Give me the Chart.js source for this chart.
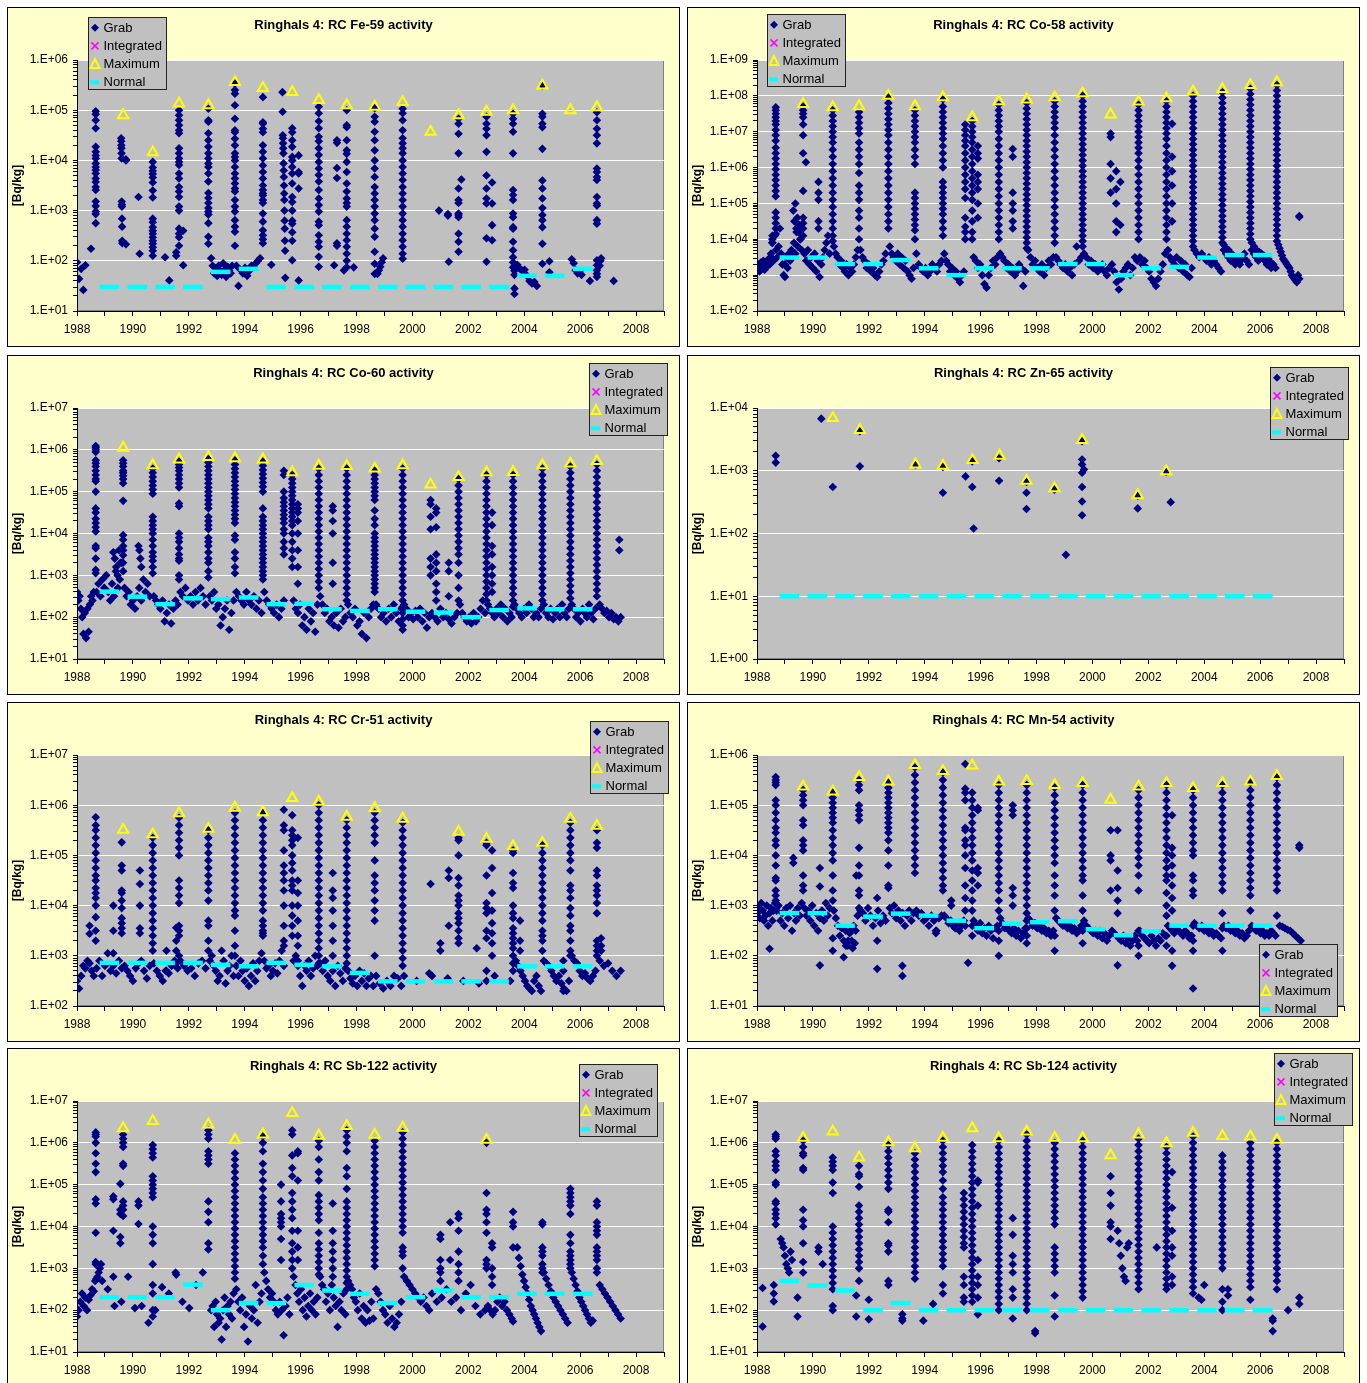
<!DOCTYPE html>
<html>
<head>
<meta charset="utf-8">
<script src="https://cdn.jsdelivr.net/npm/chart.js@4.4.0/dist/chart.umd.min.js"></script>
<style>
body { margin: 0; background: #fff; width: 1367px; height: 1383px; overflow: hidden; position: relative; }
.panel { position: absolute; width: 671px; height: 338px; border: 1px solid #000; background: #FFFFCC; }
.panel canvas { display: block; }
</style>
</head>
<body>
<script>
// --- Data (all activity values are log10 of Bq/kg) ---
// grab rows: [x, [values]] or [x0, x1, [values]] (samples spread between x0 and x1)

// centres of the "Normal" dashes, one per cycle
const normalX = [1989.16,1990.16,1991.15,1992.15,1993.14,1994.14,1995.13,1996.13,1997.12,1998.12,1999.12,2000.11,2001.11,2002.10,2003.10,2004.10,2005.09,2006.09];

// --- Fe-59 ---
const fe59Grab = [
  [1988.0,1988.3,[1.97,1.64,1.84,1.42,1.91]],[1988.5,[2.24]],
  [1988.67,[4.98,4.92,4.8,4.64,4.27,4.17,4.1,4.04,3.94,3.87,3.81,3.74,3.64,3.57,3.47,3.41,3.18,3.09,2.98,2.93,2.75]],
  [1989.58,1989.62,[4.44,4.38,4.3,4.24,4.14,4.04,3.18,3.12,3.08,2.84,2.68,2.4,2.35]],[1989.75,[4.02,4.0,2.33]],
  [1990.2,[3.27]],[1990.24,[2.14]],
  [1990.71,[3.97,3.86,3.79,3.73,3.66,3.56,3.4,3.26,2.84,2.77,2.67,2.6,2.54,2.47,2.4,2.34,2.27,2.2,2.1]],
  [1991.15,[2.07]],[1991.3,[1.61]],[1991.55,[2.1,2.17]],
  [1991.65,[5.0,4.9,4.8,4.7,4.6,4.54,4.24,4.14,4.04,3.97,3.91,3.74,3.64,3.47,3.38,3.27,3.08,3.0,2.64,2.54,2.47,2.3]],
  [1991.8,[1.91,2.6]],
  [1992.7,[5.03,4.8,4.77,4.54,4.4,4.27,4.14,4.04,3.94,3.87,3.74,3.58,3.35,3.25,3.15,3.05,2.98,2.92,2.75,2.48,2.34]],
  [1992.8,1993.55,[2.05,1.9,1.75,1.85,1.7,1.9,1.8,1.72,1.95,1.82,1.68,1.88,1.8,1.75,1.9]],
  [1993.65,[5.53,5.4,5.33,5.1,4.83,4.6,4.56,4.43,4.3,4.14,4.07,4.0,3.87,3.74,3.64,3.54,3.44,3.38,3.21,3.08,2.98,2.81,2.68,2.58,2.3]],
  [1993.7,1994.55,[1.9,1.5,1.82,1.75,1.86,1.7,1.8,1.9,1.88,1.95,2.0,2.05]],
  [1994.65,[5.26,4.76,4.73,4.63,4.56,4.3,4.17,4.04,3.9,3.77,3.64,3.5,3.41,3.34,3.3,3.21,3.15,2.94,2.78,2.61,2.51,2.43,2.35]],
  [1994.95,[1.92]],
  [1995.35,1995.45,[5.36,4.97,4.5,4.44,4.34,4.24,4.14,3.94,3.8,3.67,3.5,3.34,3.21,3.0,2.8,2.64,2.4,2.2,1.66]],
  [1995.7,[4.64,4.56,4.4,4.27,4.07,4.0,3.87,3.74,3.54,3.27,3.17,3.0,2.8,2.74,2.57,2.4,2.01]],
  [1995.93,[4.1,3.77,3.74,3.44,1.61]],
  [1996.65,[5.07,4.94,4.78,4.64,4.47,4.38,4.24,4.11,3.97,3.84,3.71,3.58,3.41,3.24,3.11,2.98,2.78,2.71,2.51,2.38,2.28,2.08,1.88]],
  [1997.2,[1.91]],[1997.3,[4.4,4.35,3.85,3.65,2.35,2.3]],[1997.55,[1.81]],
  [1997.65,[5.0,4.7,4.66,4.4,4.2,4.13,3.97,3.77,3.54,3.38,3.24,3.15,3.08,2.81,2.68,2.54,2.41,2.28,2.14,2.0,1.87]],
  [1997.9,[1.87]],
  [1998.65,[5.04,4.87,4.77,4.57,4.4,4.2,4.0,3.84,3.67,3.47,3.34,3.21,3.08,2.94,2.81,2.64,2.48,2.18,1.94,1.74]],
  [1998.75,1998.95,[1.74,1.81,1.88,1.97,2.05]],
  [1999.65,[5.03,4.94,4.8,4.6,4.44,4.34,4.24,4.14,4.0,3.87,3.74,3.61,3.47,3.34,3.21,3.08,2.94,2.81,2.68,2.54,2.41,2.28,2.14,2.04]],
  [2000.95,[3.0]],[2001.27,[2.93,2.9]],[2001.3,[1.98]],
  [2001.65,[4.83,4.73,4.53,4.14,3.44,3.21,3.15,2.94,2.91,2.87,2.54,2.38,2.18]],[2001.75,[3.62]],
  [2002.65,[4.87,4.73,4.63,4.5,4.17,3.7,3.44,3.24,3.14,2.45,1.98]],[2002.85,[3.56,3.14,2.71,2.41]],
  [2003.6,[4.93,4.83,4.73,4.57,4.14,3.41,3.31,3.21,2.94,2.87,2.67,2.64,2.38,2.21,2.07,1.97,1.87]],
  [2003.65,[1.8,1.72,1.45,1.34]],
  [2003.75,2004.45,[1.92,1.85,1.8,1.82,1.7,1.6,1.55,1.58,1.5]],
  [2004.65,[5.49,4.93,4.87,4.73,4.66,4.23,3.6,3.44,3.24,3.05,2.91,2.81,2.67,2.34,1.94]],
  [2004.9,[1.99,1.77]],
  [2005.7,2006.05,[2.03,1.95,1.81,1.75,1.78,1.72]],[2006.35,[1.6]],
  [2006.6,[4.96,4.8,4.63,4.5,4.34,3.84,3.77,3.67,3.61,3.27,3.14,3.1,2.81,2.74,2.01,1.91,1.81,1.74,1.68]],
  [2006.7,2006.75,[1.9,2.0,2.05]],[2007.2,[1.6]]
];
const fe59Max = [[1989.65,4.9],[1990.71,4.16],[1991.65,5.13],[1992.7,5.1],[1993.65,5.56],[1994.65,5.44],[1995.7,5.36],[1996.65,5.2],[1997.65,5.1],[1998.65,5.07],[1999.65,5.16],[2000.65,4.57],[2001.65,4.9],[2002.65,4.97],[2003.6,5.0],[2004.65,5.49],[2005.65,5.0],[2006.6,5.06]];
const fe59Normal = [1.48,1.48,1.48,1.48,1.78,1.84,1.48,1.48,1.48,1.48,1.48,1.48,1.48,1.48,1.48,1.7,1.7,1.84];

// --- Co-58 ---
const co58Grab = [
  [1988.55,[4.0,4.1,3.9]],
  [1988.67,[7.68,7.6,7.5,7.4,7.3,7.2,7.05,6.9,6.75,6.55,6.4,6.25,6.1,5.95,5.8,5.65,5.5,5.35,5.2,4.75,4.6,4.45,4.3,4.15]],
  [1989.3,1989.55,[4.8,4.5,5.0,4.3,4.6,4.2,4.4,4.0]],
  [1989.65,[7.7,7.6,7.5,7.4,7.2,6.9,6.4,5.35,4.6,4.45,4.3,4.1]],[1989.75,[6.15]],
  [1990.2,[5.6,5.3,5.1,4.5,4.3]],
  [1990.71,[7.6,7.45,7.3,7.15,7.0,6.85,6.7,6.5,6.3,6.1,5.9,5.7,5.5,5.3,5.1,4.9,4.7,4.5,4.3,4.1,3.95]],
  [1991.65,[7.55,7.4,7.25,7.1,6.95,6.7,6.5,6.3,6.1,5.85,5.5,5.3,5.1,4.8,4.6,4.3,4.0]],
  [1992.7,[7.95,7.8,7.65,7.5,7.35,7.2,7.05,6.9,6.7,6.5,6.3,6.1,5.9,5.7,5.5,5.3,5.1,4.9,4.7,4.5,4.3]],
  [1993.65,[7.6,7.45,7.3,7.15,7.0,6.85,6.7,6.5,6.3,6.1,5.3,5.15,5.0,4.85,4.7,4.55,4.4,4.25,4.0]],
  [1994.65,[7.9,7.7,7.55,7.4,7.25,7.1,6.95,6.8,6.6,6.4,6.2,6.0,5.6,5.45,5.3,5.15,5.0,4.85,4.7,4.5,4.3,4.1]],
  [1995.45,[7.2,7.05,6.9,6.75,6.6,6.4,6.2,6.0,5.8,5.6,5.4,5.15,4.6,4.35,4.2,4.0]],
  [1995.7,[7.3,7.15,7.0,6.85,6.7,6.5,6.3,6.1,5.9,5.7,5.5,5.3,5.1,4.8,4.5,4.2,4.0]],
  [1995.9,[6.6,6.4,6.25,5.8,5.6,5.4,5.0,4.6]],
  [1996.65,[7.75,7.6,7.45,7.3,7.15,7.0,6.8,6.6,6.4,6.2,6.0,5.8,5.6,5.4,5.2,5.0,4.8,4.6,4.4,4.2,4.0]],
  [1997.15,[6.52,6.3,5.3,5.0,4.8,4.5,4.3]],
  [1997.65,[7.8,7.65,7.5,7.35,7.2,7.05,6.9,6.75,6.6,6.45,6.3,6.15,6.0,5.85,5.7,5.55,5.4,5.25,5.1,4.95,4.8,4.65,4.5,4.35,4.2,4.05,3.9,3.75]],
  [1998.65,[7.85,7.7,7.55,7.4,7.25,7.1,6.9,6.7,6.5,6.3,6.1,5.9,5.7,5.5,5.3,5.1,4.9,4.7,4.5,4.3,4.1,3.9]],
  [1999.65,[8.0,7.85,7.7,7.55,7.4,7.25,7.1,6.95,6.8,6.65,6.5,6.35,6.2,6.05,5.9,5.75,5.6,5.45,5.3,5.15,5.0,4.85,4.7,4.55,4.4,4.25,4.1,3.95,3.8]],
  [2000.65,[6.95,6.85,6.1,5.7,5.3]],[2000.85,[5.9,5.4,5.0,4.5,4.2]],[2001.0,[5.6,4.4]],
  [2001.65,[7.75,7.6,7.45,7.3,7.15,7.0,6.85,6.7,6.55,6.4,6.2,6.0,5.8,5.6,5.4,5.2,5.0,4.8,4.6,4.4,4.2,4.0]],
  [2002.65,[7.85,7.7,7.55,7.4,7.25,7.1,6.95,6.8,6.6,6.4,6.2,6.0,5.8,5.6,5.4,5.2,5.0,4.8,4.6,4.4,4.2,4.0]],
  [2002.85,[7.22,6.3,5.9,5.5,5.0,4.5]],
  [2003.6,[8.0,7.85,7.7,7.55,7.4,7.25,7.1,6.95,6.8,6.65,6.5,6.35,6.2,6.05,5.9,5.75,5.6,5.45,5.3,5.15,5.0,4.85,4.7,4.55,4.4,4.25,4.1,3.95,3.8]],
  [2004.65,[8.1,7.95,7.8,7.65,7.5,7.35,7.2,7.05,6.9,6.75,6.6,6.45,6.3,6.15,6.0,5.85,5.7,5.55,5.4,5.25,5.1,4.95,4.8,4.65,4.5,4.35,4.2,4.05,3.9]],
  [2004.7,2005.3,[3.85,3.75,3.7,3.6,3.55,3.5,3.45,3.4]],
  [2005.65,[8.2,8.05,7.9,7.75,7.6,7.45,7.3,7.15,7.0,6.85,6.7,6.55,6.4,6.25,6.1,5.95,5.8,5.65,5.5,5.35,5.2,5.05,4.9,4.75,4.6,4.45,4.3,4.15,4.0]],
  [2005.7,2006.3,[3.9,3.8,3.7,3.65,3.6,3.55,3.5,3.45]],
  [2006.6,[8.3,8.15,8.0,7.85,7.7,7.55,7.4,7.25,7.1,6.95,6.8,6.65,6.5,6.35,6.2,6.05,5.9,5.75,5.6,5.45,5.3,5.15,5.0,4.85,4.7,4.55,4.4,4.25,4.1,3.95]],
  [2006.65,2007.4,[3.85,3.75,3.65,3.55,3.45,3.4,3.35,3.3,3.25,3.2,3.1,3.0,2.95,2.9,2.85,2.8,3.0,2.9]],
  [2007.4,[4.65,4.62]]
];
const co58Band = [
  [1988.0,1988.5,[3.2,3.3,3.1,3.35,3.2,3.4,3.15,3.3,3.25,3.45,3.3,3.5]],
  [1988.5,1989.0,[3.6,3.9,3.4,4.1,3.7,3.5,3.8,4.3,3.6,3.3,3.0,2.95]],
  [1989.0,1989.6,[3.3,3.5,3.2,3.6,3.4,3.7,3.5,3.9,3.6,4.2,3.8,4.4,4.0,3.7]],
  [1989.7,1990.6,[3.6,3.4,3.7,3.3,3.5,3.2,3.6,3.1,3.4,2.95,3.3,3.5,3.7,3.9,4.1,3.6]],
  [1990.75,1991.6,[3.8,3.6,3.5,3.3,3.4,3.2,3.1,3.3,3.0,3.2,3.1,3.3,3.5,3.7]],
  [1991.7,1992.6,[3.7,3.5,3.4,3.2,3.3,3.1,3.2,3.0,2.95,3.1,3.3,3.4,3.6]],
  [1992.75,1993.6,[3.8,3.6,3.5,3.4,3.6,3.3,3.5,3.2,3.4,3.1,3.0,2.9,3.2]],
  [1993.7,1994.6,[3.6,3.3,3.2,3.1,3.2,3.0,3.1,3.3,3.2,3.1,3.3,3.4]],
  [1994.7,1995.4,[3.6,3.4,3.3,3.1,3.2,3.0,3.1,2.9,2.8,3.0,3.1]],
  [1995.75,1996.6,[3.5,3.4,3.2,3.3,3.0,2.75,2.65,3.0,3.2,3.4,3.3,3.5]],
  [1996.7,1997.6,[3.6,3.5,3.4,3.2,3.3,3.1,3.2,3.0,3.1,3.3,3.2,2.7,3.1]],
  [1997.7,1998.6,[3.7,3.5,3.3,3.4,3.2,3.1,3.3,3.0,3.2,3.4,3.3,3.5]],
  [1998.7,1999.6,[3.5,3.4,3.3,3.2,3.3,3.1,3.2,3.0,3.3,3.8,3.4,3.5]],
  [1999.7,2000.6,[3.6,3.5,3.3,3.4,3.2,3.3,3.1,3.2,3.3,3.1,3.0,3.2]],
  [2000.7,2001.6,[3.3,3.1,2.8,2.6,2.9,3.1,3.2,3.3,3.0,3.2,3.5,3.4]],
  [2001.7,2002.6,[3.5,3.3,3.4,3.2,3.1,2.9,2.8,2.7,2.9,3.1,3.3,3.6]],
  [2002.7,2003.55,[3.7,3.5,3.4,3.3,3.5,3.2,3.4,3.1,3.3,3.0,2.95,3.2]],
  [2003.65,2004.6,[3.7,3.6,3.5,3.6,3.5,3.4,3.5,3.3,3.4,3.3,3.2,3.1]],
  [2004.7,2005.6,[3.7,3.6,3.5,3.4,3.5,3.3,3.4,3.3,3.5,3.6,3.4,3.3]],
  [2005.7,2006.55,[3.7,3.6,3.5,3.4,3.6,3.5,3.4,3.3,3.4,3.2,3.3,3.2]]
];
const co58Max = [[1989.65,7.77],[1990.71,7.68],[1991.65,7.71],[1992.7,8.0],[1993.65,7.71],[1994.65,7.96],[1995.7,7.4],[1996.65,7.85],[1997.65,7.9],[1998.65,7.96],[1999.65,8.07],[2000.65,7.48],[2001.65,7.84],[2002.65,7.93],[2003.6,8.12],[2004.65,8.19],[2005.65,8.3],[2006.6,8.38]];
const co58Normal = [3.49,3.49,3.31,3.31,3.42,3.19,3.0,3.19,3.19,3.19,3.31,3.31,3.0,3.19,3.23,3.49,3.56,3.56];

// --- Co-60 ---
const co60Grab = [
  [1988.67,[6.09,6.05,6.0,5.95,5.75,5.68,5.6,5.5,5.4,5.3,5.25,5.0,4.6,4.5,4.35,4.25,4.15,4.05,3.7,3.65,3.4,3.13,3.05]],
  [1989.3,1989.55,[3.55,3.4,3.2,3.0,3.6,3.3]],
  [1989.65,[5.75,5.68,5.6,5.5,5.45,5.38,5.3,5.2,4.78,3.96,3.85,3.7,3.6,3.48,3.3,3.1]],
  [1990.2,1990.3,[3.7,3.6,3.4,3.2]],
  [1990.71,[5.55,5.45,5.35,5.25,5.15,5.05,4.95,4.4,4.3,4.2,4.1,4.0,3.85,3.7,3.55,3.45,3.35,3.2,3.05]],
  [1991.65,[5.72,5.65,5.58,5.5,5.4,5.3,5.2,5.1,4.72,4.65,4.0,3.9,3.8,3.65,3.5,3.4,3.35,3.0,2.9]],
  [1992.7,[5.78,5.7,5.6,5.5,5.4,5.3,5.2,5.1,5.0,4.9,4.8,4.7,4.6,4.4,4.3,4.2,4.1,3.9,3.8,3.7,3.55,3.4,3.3,3.1,2.95]],
  [1993.65,[5.75,5.65,5.55,5.45,5.35,5.25,5.15,5.05,4.95,4.85,4.75,4.65,4.55,4.45,4.35,4.25,3.95,3.85,3.55,3.4,3.2,3.05]],
  [1994.65,[5.72,5.62,5.52,5.42,5.32,5.22,5.12,5.0,4.6,4.4,4.3,4.2,4.1,4.0,3.9,3.8,3.7,3.6,3.5,3.4,3.3,3.2,3.1,3.0,2.9]],
  [1995.4,[5.5,5.4,5.0,4.85,4.75,4.65,4.55,4.45,4.35,4.25,4.1,4.0,3.8,3.65,3.5]],
  [1995.7,[5.4,5.3,5.2,5.1,5.0,4.9,4.8,4.7,4.6,4.5,4.4,4.3,4.2,4.0,3.8,3.6,3.4,3.2]],
  [1995.9,[4.7,4.6,4.5,4.3,4.0,3.6,3.2,2.8]],
  [1996.65,[5.55,5.4,5.25,5.1,4.95,4.8,4.65,4.5,4.35,4.2,4.05,3.9,3.75,3.6,3.45,3.3,3.15,3.0,2.85,2.7]],
  [1997.15,[4.65,4.55,4.3,4.0,3.3,2.8]],
  [1997.65,[5.55,5.4,5.25,5.1,4.95,4.8,4.65,4.5,4.35,4.2,4.05,3.9,3.75,3.6,3.45,3.3,3.15,3.0,2.85,2.7,2.55,2.4]],
  [1998.65,[5.5,5.4,5.3,5.2,5.1,5.0,4.9,4.8,4.55,4.35,4.2,4.0,3.9,3.8,3.7,3.6,3.5,3.4,3.3,3.2,3.1,3.0,2.9,2.8,2.7,2.6]],
  [1999.65,[5.55,5.4,5.25,5.1,4.95,4.8,4.65,4.5,4.35,4.2,4.05,3.9,3.75,3.6,3.45,3.3,3.15,3.0,2.85,2.7,2.55,2.4,2.25,2.1,1.95,1.8,1.7]],
  [2000.65,[4.8,4.7,4.4,4.1,3.4,3.2,3.0]],
  [2000.85,[4.6,4.5,4.15,3.5,3.3,3.1,2.8,2.6,2.4]],
  [2001.3,[3.3,3.1,2.5]],
  [2001.65,[5.3,5.15,5.0,4.85,4.7,4.55,4.4,4.25,4.1,3.95,3.8,3.65,3.5,3.3,3.0,2.7,2.4]],
  [2002.65,[5.4,5.25,5.1,4.95,4.8,4.65,4.5,4.35,4.2,4.05,3.9,3.75,3.6,3.45,3.3,3.15,3.0,2.85,2.7,2.55,2.4]],
  [2002.85,[4.5,4.2,3.7,3.5,3.2,3.0,2.8,2.6]],
  [2003.6,[5.4,5.25,5.1,4.95,4.8,4.65,4.5,4.35,4.2,4.05,3.9,3.75,3.6,3.45,3.3,3.15,3.0,2.85,2.7,2.55,2.4,2.25]],
  [2004.65,[5.55,5.4,5.25,5.1,4.95,4.8,4.65,4.5,4.35,4.2,4.05,3.9,3.75,3.6,3.45,3.3,3.15,3.0,2.85,2.7,2.55,2.4]],
  [2005.65,[5.6,5.45,5.3,5.15,5.0,4.85,4.7,4.55,4.4,4.25,4.1,3.95,3.8,3.65,3.5,3.35,3.2,3.05,2.9,2.75,2.6,2.45]],
  [2006.6,[5.65,5.5,5.35,5.2,5.05,4.9,4.75,4.6,4.45,4.3,4.15,4.0,3.85,3.7,3.55,3.4,3.25,3.1,2.95,2.8,2.65,2.5]],
  [2007.4,[3.85,3.6]]
];
const co60Band = [
  [1988.0,1988.6,[2.6,2.4,2.5,2.2,2.0,1.6,2.1,1.5,2.2,1.65,2.3,2.5,2.4,2.6]],
  [1988.7,1989.6,[2.6,2.8,2.5,2.9,2.7,3.0,2.6,2.4,2.8,2.5,3.1,2.7,2.9,3.3]],
  [1989.7,1990.6,[2.7,2.5,2.6,2.3,2.4,2.2,2.5,2.7,2.4,2.9,2.6,2.8,2.5]],
  [1990.75,1991.6,[2.5,2.4,2.3,2.2,2.4,1.9,2.1,2.3,1.85,2.2,2.4,2.3]],
  [1991.7,1992.6,[2.6,2.5,2.7,2.4,2.5,2.3,2.6,2.4,2.7,2.5,2.3]],
  [1992.75,1993.6,[2.5,2.4,2.6,2.2,2.3,1.8,2.0,2.2,2.4,1.7,2.1,2.4]],
  [1993.7,1994.6,[2.6,2.5,2.4,2.3,2.6,2.4,2.3,2.5,2.2,2.4,2.1]],
  [1994.7,1995.4,[2.6,2.4,2.3,2.2,2.1,2.3,2.0,2.2,2.4]],
  [1995.75,1996.6,[2.4,2.2,2.1,2.3,1.8,2.0,1.7,2.2,1.9,2.1,1.65,2.3]],
  [1996.7,1997.6,[2.5,2.3,2.1,2.2,1.9,2.0,1.8,2.1,1.75,2.2,1.9,2.0]],
  [1997.7,1998.6,[2.3,2.1,2.0,2.2,1.8,1.9,1.6,2.1,1.5,2.0,2.2,2.3]],
  [1998.7,1999.6,[2.3,2.2,2.0,2.1,1.9,2.2,2.0,2.3,2.1,1.9,2.2]],
  [1999.7,2000.6,[2.3,2.2,2.0,2.1,1.95,2.15,2.0,2.2,1.9,2.1,1.75,2.0]],
  [2000.7,2001.6,[2.1,2.0,1.9,2.2,2.0,2.1,1.95,1.85,2.0,2.1]],
  [2001.7,2002.6,[2.3,2.1,2.0,1.9,2.0,1.85,2.1,1.9,2.0,2.2,2.4,2.1]],
  [2002.7,2003.55,[2.3,2.2,2.1,2.0,2.2,2.1,2.3,2.0,2.2,1.9,2.1,2.0]],
  [2003.65,2004.6,[2.3,2.2,2.1,2.0,2.2,2.1,2.3,2.2,2.0,2.1,2.0,2.2]],
  [2004.7,2005.6,[2.3,2.1,2.0,2.2,1.95,2.1,2.2,2.0,2.3,2.1,2.0,2.2]],
  [2005.7,2006.55,[2.3,2.2,2.0,2.1,1.9,2.2,2.1,2.0,2.3,2.1,1.95,2.2]],
  [2006.7,2007.45,[2.3,2.2,2.1,2.15,2.0,2.1,1.95,2.0,1.9,2.0]]
];
const co60Max = [[1989.65,6.05],[1990.71,5.63],[1991.65,5.77],[1992.7,5.83],[1993.65,5.8],[1994.65,5.77],[1995.7,5.46],[1996.65,5.62],[1997.65,5.61],[1998.65,5.55],[1999.65,5.63],[2000.65,5.17],[2001.65,5.35],[2002.65,5.46],[2003.6,5.47],[2004.65,5.63],[2005.65,5.67],[2006.6,5.73]];
const co60Normal = [2.61,2.49,2.31,2.45,2.43,2.47,2.31,2.32,2.19,2.15,2.19,2.13,2.11,2.0,2.17,2.21,2.19,2.19];

// --- Zn-65 ---
const zn65Grab = [
  [1988.67,[3.24,3.13]],[1990.3,[3.83]],[1990.71,[2.74]],[1991.68,[3.63,3.07]],[1993.67,[3.09]],
  [1994.65,[3.06,2.65]],[1995.46,[2.91]],[1995.7,[3.15,2.74]],[1995.75,[2.08]],[1996.66,[3.2,2.84]],
  [1997.64,[2.82,2.65,2.39]],[1998.64,[2.7]],[1999.05,[1.66]],[1999.63,[3.47,3.18,3.1,2.97,2.74,2.51,2.29]],
  [1999.7,[3.02]],[2001.62,[2.6,2.4]],[2002.64,[2.98]],[2002.8,[2.5]]
];
const zn65Max = [[1990.71,3.84],[1991.68,3.65],[1993.67,3.1],[1994.65,3.08],[1995.71,3.17],[1996.68,3.24],[1997.64,2.84],[1998.64,2.72],[1999.63,3.49],[2001.62,2.61],[2002.64,2.99]];
const zn65Normal = [1,1,1,1,1,1,1,1,1,1,1,1,1,1,1,1,1,1];

// --- Cr-51 ---
const cr51Grab = [
  [1988.67,[5.76,5.6,5.5,5.35,5.2,5.05,4.9,4.75,4.6,4.5,4.35,4.25,4.15,4.0,3.77,3.5,3.3]],
  [1988.45,[3.44,3.6]],[1989.3,[4.0,3.5,3.05]],
  [1989.6,[5.26,4.8,4.7,4.3,4.25,4.1,3.95,3.75,3.65,3.55,3.45]],
  [1990.25,[4.7,4.43,4.0,3.55,3.45]],
  [1990.71,[5.35,5.2,5.05,4.9,4.75,4.6,4.45,4.3,4.15,4.0,3.85,3.7,3.55,3.4,3.25,3.1]],
  [1991.2,[3.1,2.7]],[1991.55,[3.56,3.3,3.1,2.85]],
  [1991.65,[5.75,5.6,5.45,5.3,5.15,5.0,4.5,4.35,4.2,4.05,3.6,3.5,3.4,3.0]],
  [1992.7,[5.5,5.35,5.2,5.05,4.9,4.75,4.6,4.45,4.3,4.1,3.7,3.6,3.3,3.1]],
  [1993.65,[5.85,5.7,5.55,5.4,5.25,5.1,4.95,4.8,4.65,4.5,4.35,4.2,4.05,3.9,3.8,3.5,3.2,3.0]],
  [1994.65,[5.85,5.7,5.55,5.4,5.25,5.1,4.95,4.8,4.65,4.5,4.35,4.2,4.05,3.9,3.7,3.6,3.5,3.45,3.4]],
  [1995.4,[5.91,5.6,5.5,5.1,4.8,4.65,4.5,4.3,4.0,3.6,3.3,3.2]],
  [1995.7,[5.8,5.5,5.4,5.3,5.2,5.0,4.85,4.7,4.5,4.4,4.3,4.0,3.8,3.6,3.4]],
  [1995.9,[5.35,4.5,4.25,4.0,3.7,3.4,3.2,2.9]],
  [1996.65,[6.0,5.85,5.7,5.55,5.4,5.25,5.1,4.95,4.8,4.65,4.5,4.35,4.2,4.05,3.9,3.75,3.6,3.45,3.3,3.15,3.0,2.85]],
  [1997.15,[4.65,4.3,4.15,3.9,3.6,3.3,3.0]],
  [1997.65,[5.7,5.55,5.4,5.25,5.1,4.95,4.8,4.65,4.5,4.35,4.2,4.05,3.9,3.75,3.6,3.45,3.3,3.15,3.0,2.85]],
  [1998.65,[5.85,5.7,5.55,5.4,5.25,4.9,4.6,4.45,4.3,4.1,3.9,3.7,3.0]],
  [1999.65,[5.65,5.5,5.35,5.2,5.05,4.9,4.75,4.6,4.45,4.3,4.15,4.0,3.85,3.7,3.55,3.4,3.25,3.1,2.95,2.8]],
  [2000.65,[4.43]],[2001.0,[3.25,3.1]],[2001.3,[4.7,4.55,3.6]],
  [2001.65,[5.35,5.3,5.0,4.55,4.4,4.2,4.1,4.0,3.85,3.75,3.65,3.5,3.35,3.25]],
  [2002.3,[3.15]],
  [2002.65,[5.25,5.2,4.6,4.05,3.95,3.85,3.5,3.35,2.7,2.5]],
  [2002.85,[5.1,4.75,4.25,3.9,3.65,3.45,3.25,3.0]],
  [2003.6,[5.1,5.05,4.65,4.45,4.35,4.0,3.85,3.75,3.55,3.45,3.35,3.25,3.15,3.0,2.85,2.7]],
  [2003.85,[3.7,3.3,3.1]],
  [2004.65,[5.2,5.05,4.9,4.75,4.6,4.45,4.3,4.15,4.0,3.85,3.7,3.5,3.4,3.3,3.1]],
  [2005.4,[2.9,2.7,2.3]],
  [2005.65,[5.65,5.5,5.35,5.2,5.05,4.9,4.7,4.4,4.3,4.15,3.95,3.8,3.6,3.5,3.3,3.1,3.0]],
  [2006.6,[5.5,5.25,5.15,4.7,4.6,4.4,4.3,4.2,4.05,3.85,3.3,3.2,3.1,3.0]],
  [2006.75,[3.35,3.2,3.1]]
];
const cr51Band = [
  [1988.0,1988.6,[2.5,2.35,2.6,2.8,2.75,2.9,2.85,2.7,2.6]],
  [1988.7,1989.6,[2.75,2.9,2.6,2.8,3.05,2.7,2.8,2.65,2.9,2.75]],
  [1989.7,1990.6,[2.8,2.7,2.6,2.5,2.75,2.85,2.9,2.7,2.55,2.8]],
  [1990.75,1991.6,[2.85,2.7,2.6,2.5,2.7,2.65,2.8,2.9,2.75]],
  [1991.7,1992.6,[2.9,2.8,2.7,2.75,2.6,2.85,2.9,2.75]],
  [1992.75,1993.6,[2.9,3.0,2.8,2.7,2.5,2.6,3.1,2.9,2.45,2.7,2.8,3.0,2.6]],
  [1993.7,1994.6,[2.8,2.6,2.9,2.7,2.5,2.75,2.4,2.6,2.85,2.5,2.7,2.9,3.05]],
  [1994.7,1995.4,[2.9,2.75,2.8,2.6,2.7,2.85,2.65,2.9,3.1,2.8]],
  [1995.75,1996.6,[2.9,3.0,2.8,2.6,2.4,2.8,2.7,2.9,2.6,2.75,3.0,2.8]],
  [1996.7,1997.6,[2.85,2.7,2.9,2.6,2.5,2.7,2.4,2.8,2.65,2.5,2.75]],
  [1997.7,1998.6,[2.7,2.55,2.45,2.6,2.4,2.7,2.5,2.65,2.4,2.55,2.6,2.4]],
  [1998.7,1999.6,[2.6,2.45,2.35,2.5,2.4,2.6,2.55,2.4]],
  [1999.7,2000.6,[2.6,2.5,2.65]],
  [2000.7,2003.5,[2.6,2.55,2.5,2.45,2.6,2.5]],
  [2003.7,2004.6,[2.9,2.8,2.7,2.6,2.5,2.4,2.35,2.3,2.5,2.6,2.4,2.3]],
  [2004.7,2005.6,[2.9,2.85,2.8,2.7,2.6,2.5,2.6,2.45,2.35,2.3,2.5]],
  [2005.7,2006.55,[3.0,2.9,2.85,2.7,2.6,2.65,2.55,2.5,2.6,2.7]],
  [2006.7,2007.45,[2.9,2.8,2.85,2.7,2.6,2.7]]
];
const cr51Max = [[1989.65,5.51],[1990.71,5.42],[1991.65,5.84],[1992.7,5.53],[1993.65,5.95],[1994.65,5.86],[1995.7,6.14],[1996.65,6.07],[1997.65,5.77],[1998.65,5.94],[1999.65,5.73],[2001.65,5.47],[2002.65,5.33],[2003.6,5.18],[2004.65,5.25],[2005.65,5.73],[2006.6,5.59]];
const cr51Normal = [2.86,2.86,2.86,2.86,2.82,2.79,2.86,2.82,2.79,2.66,2.49,2.49,2.49,2.49,2.49,2.79,2.79,2.79];

// --- Mn-54 ---
const mn54Grab = [
  [1988.67,[5.56,5.5,5.45,5.4,5.1,5.0,4.85,4.7,4.55,4.45,4.3,4.2,4.0,3.8,3.55,3.5,3.3,3.2,3.1]],
  [1988.45,[2.14]],[1989.3,[3.95,3.85]],
  [1989.65,[5.3,5.2,5.1,5.0,4.7,4.6,4.3,4.2,4.1,3.6,3.4,3.3]],
  [1990.25,[3.75,3.38,1.81]],
  [1990.71,[5.25,5.15,5.05,4.95,4.85,4.75,4.65,4.5,4.35,4.2,4.05,3.9,3.6,3.3,3.1,2.35,2.1]],
  [1991.1,1991.5,[1.97,2.2,2.3,2.5,2.15,2.25]],[1991.55,[3.6]],
  [1991.65,[5.5,5.4,5.3,5.0,4.9,4.8,4.7,4.15,3.8,3.6,3.3,3.2,2.95]],
  [1992.3,[3.15,2.3,1.74]],
  [1992.7,[5.45,5.35,5.25,5.15,5.05,4.95,4.85,4.75,4.65,4.55,4.45,4.3,4.1,3.8,3.4,3.35]],
  [1993.2,[1.8,1.6]],
  [1993.65,[5.75,5.6,5.45,5.3,5.15,5.0,4.85,4.7,4.55,4.4,4.25,4.1,3.95,3.8,3.65]],
  [1994.4,[2.5,2.45]],
  [1994.65,[5.65,5.5,5.35,5.2,5.05,4.9,4.75,4.6,4.45,4.3,4.15,4.0,3.85,3.7,3.55,3.4,3.3]],
  [1994.95,[3.1,3.0]],
  [1995.45,[5.82,5.33,5.25,5.1,4.55,4.5,4.3,4.2,4.0,3.75,3.4,3.15,2.9,2.6]],[1995.55,[1.86]],
  [1995.7,[5.25,5.1,4.95,4.8,4.65,4.5,4.35,4.2,4.05,3.9,3.7,3.5,3.3,3.1,2.9,2.6,2.4]],
  [1995.9,[4.95,4.9,3.75,3.65,3.4]],
  [1996.65,[5.4,5.25,5.1,4.95,4.8,4.65,4.5,4.35,4.2,4.05,3.9,3.75,3.6,3.45,3.3,3.1,2.9,2.5,2.3,2.0]],
  [1997.15,[5.0,4.9,4.8,3.35,3.2,3.0,2.5]],
  [1997.65,[5.4,5.25,5.1,4.95,4.8,4.65,4.5,4.35,4.2,4.05,3.9,3.75,3.6,3.45,3.3,3.15,3.0,2.85,2.7,2.55,2.4,2.25]],
  [1998.65,[5.35,5.2,5.05,4.9,4.75,4.6,4.45,4.3,4.15,4.0,3.85,3.6,3.4,3.2,2.9,2.4,2.1]],
  [1999.65,[5.4,5.25,5.1,4.95,4.8,4.65,4.5,4.35,4.2,4.05,3.9,3.75,3.6,3.5,3.2,2.9,2.5,2.25]],
  [2000.65,[4.5,4.0,3.9,3.3]],[2000.9,[4.5,3.7,3.35,3.1,2.85,1.81]],
  [2001.65,[5.3,5.15,5.0,4.85,4.7,4.55,4.4,4.25,4.1,3.95,3.8,3.6,3.3,2.5,2.2,2.0]],
  [2002.65,[5.4,5.25,5.1,4.95,4.8,4.65,4.5,4.35,4.2,4.05,3.9,3.75,3.6,3.5,3.25,3.0,2.8,2.4,2.2]],
  [2002.85,[4.8,4.15,4.0,3.8,3.6,3.4,3.15,2.9,2.1,1.8]],
  [2003.6,[5.3,5.15,5.0,4.85,4.7,4.55,4.4,4.25,4.1,4.0,3.6,3.5,3.3,3.2,2.6,2.3,2.1,1.35]],
  [2004.65,[5.4,5.25,5.1,4.95,4.8,4.65,4.5,4.35,4.2,4.05,3.9,3.75,3.6,3.45,3.3,2.85,2.55,2.1]],
  [2005.65,[5.45,5.3,5.15,5.0,4.85,4.7,4.55,4.4,4.25,4.1,3.95,3.8,3.65,3.5,3.35,3.2,2.9]],
  [2006.6,[5.55,5.4,5.25,5.1,4.95,4.8,4.65,4.5,4.35,4.2,4.05,3.9,3.75,3.6,3.45,3.3,2.8]],
  [2007.4,[4.2,4.15]]
];
const mn54Band = [
  [1988.0,1988.65,[2.85,2.95,2.75,3.05,2.9,2.7,2.8,3.0,2.6,2.85,2.95,2.7,2.9,3.05]],
  [1988.7,1989.6,[2.9,3.0,2.7,2.85,2.6,2.95,2.75,3.0,2.5,2.85,2.7,2.95,2.8,3.05]],
  [1989.7,1990.6,[2.95,2.8,2.9,2.7,3.0,2.6,2.85,2.5,2.75,2.9,2.7,3.05,2.8,2.95]],
  [1990.75,1991.6,[2.9,2.75,2.6,2.4,2.55,2.3,2.5,2.2,2.45,2.3,2.6,2.5,2.8]],
  [1991.7,1992.6,[2.9,2.85,2.7,2.95,2.8,2.6,2.75,2.9,2.65,2.8,2.7]],
  [1992.75,1993.6,[2.95,2.85,3.0,2.75,2.9,2.7,2.85,2.6,2.8,2.9,2.7,2.85]],
  [1993.7,1994.6,[2.9,2.8,2.85,2.7,2.75,2.6,2.8,2.7,2.5,2.75,2.8]],
  [1994.7,1995.4,[2.8,2.75,2.65,2.7,2.6,2.55,2.65,2.5,2.6,2.7]],
  [1995.75,1996.6,[2.7,2.6,2.5,2.65,2.45,2.55,2.4,2.6,2.5,2.35,2.55,2.6]],
  [1996.7,1997.6,[2.75,2.65,2.55,2.6,2.5,2.45,2.55,2.4,2.5,2.35,2.45,2.55]],
  [1997.7,1998.6,[2.75,2.7,2.6,2.65,2.55,2.6,2.5,2.55,2.45,2.5,2.4,2.5]],
  [1998.7,1999.6,[2.75,2.7,2.65,2.6,2.65,2.55,2.6,2.5,2.55,2.45,2.5,2.6]],
  [1999.7,2000.6,[2.7,2.6,2.55,2.5,2.45,2.5,2.4,2.5,2.35,2.45,2.3,2.4]],
  [2000.7,2001.6,[2.5,2.45,2.4,2.35,2.3,2.4,2.25,2.35,2.2,2.3,2.4,2.3]],
  [2001.7,2002.6,[2.5,2.4,2.35,2.3,2.25,2.4,2.3,2.2,2.35,2.3,2.45,2.4]],
  [2002.7,2003.55,[2.6,2.55,2.5,2.45,2.55,2.5,2.45,2.4,2.5,2.45,2.35,2.4]],
  [2003.65,2004.6,[2.65,2.6,2.55,2.6,2.5,2.55,2.45,2.5,2.4,2.45,2.4,2.35]],
  [2004.7,2005.6,[2.6,2.55,2.6,2.5,2.55,2.45,2.5,2.4,2.45,2.35,2.4,2.5]],
  [2005.7,2006.55,[2.6,2.55,2.5,2.55,2.45,2.5,2.4,2.45,2.4,2.5,2.45,2.4]],
  [2006.7,2007.45,[2.6,2.58,2.55,2.52,2.5,2.45,2.4,2.35,2.3]]
];
const mn54Max = [[1989.65,5.37],[1990.71,5.27],[1991.65,5.56],[1992.7,5.47],[1993.65,5.8],[1994.65,5.68],[1995.7,5.79],[1996.65,5.47],[1997.65,5.48],[1998.65,5.4],[1999.65,5.44],[2000.65,5.11],[2001.65,5.37],[2002.65,5.44],[2003.6,5.34],[2004.65,5.44],[2005.65,5.47],[2006.6,5.58]];
const mn54Normal = [2.85,2.85,2.6,2.78,2.84,2.8,2.7,2.55,2.64,2.67,2.69,2.53,2.41,2.49,2.6,2.6,2.6,2.6];

// --- Sb-122 ---
const sb122Grab = [
  [1988.67,[6.25,6.2,6.15,6.0,5.75,5.5,5.3,4.65,4.55,3.85,3.15,3.1]],
  [1989.3,[4.72,4.65,3.9,2.8]],[1989.55,[5.02,4.4,4.3,3.75,3.6]],
  [1989.65,[6.2,6.1,6.0,5.9,5.5,5.45,4.6,4.5,4.4,4.25]],
  [1990.2,[4.6,4.5,4.06]],
  [1990.71,[5.95,5.85,5.75,5.65,5.2,5.1,5.0,4.9,4.8,4.7,4.0,3.8,3.6,3.1,2.6,2.4,2.0,1.85]],
  [1991.55,[2.85]],
  [1992.7,[6.3,6.2,6.1,5.8,5.7,5.6,5.5,4.6,4.35,4.1,3.6,3.45]],
  [1993.65,[5.75,5.6,5.45,5.3,5.15,5.0,4.85,4.7,4.55,4.4,4.25,4.1,3.95,3.8,3.65,3.5,3.35,3.2,3.05,2.9,2.75]],
  [1994.65,[6.15,6.0,5.8,5.5,5.3,5.1,4.9,4.7,4.55,4.4,4.25,4.1,3.95,3.8,3.65,3.5,3.3,3.1]],
  [1995.3,[5.0,4.6,4.3,4.2,4.1,4.0,3.7,3.2]],
  [1995.7,[6.3,6.2,5.7,5.4,5.2,4.8,4.6,4.4,4.2,3.9,3.6,3.4,3.2,3.0]],
  [1995.9,[5.8,5.75,5.1,3.9,3.5,3.2]],
  [1996.65,[6.05,5.9,5.6,5.3,5.1,4.75,4.6,4.45,4.3,4.15,3.85,3.6,3.45,3.3,3.15,3.0,2.85]],
  [1997.15,[4.55,3.9,3.6,3.4,3.2,3.0,2.8]],
  [1997.65,[6.3,6.15,6.0,5.8,5.4,5.2,4.9,4.6,4.45,4.3,4.15,4.0,3.85,3.7,3.55,3.4,3.25,3.1,2.95,2.8,2.65,2.5]],
  [1998.65,[6.05,5.9,5.75,5.6,5.45,5.3,5.15,5.0,4.85,4.7,4.55,4.4,4.25,4.1,3.95,3.8,3.65,3.5,3.35,3.2,3.05]],
  [1999.65,[6.25,6.1,5.95,5.8,5.65,5.5,5.35,5.2,5.05,4.9,4.75,4.6,4.45,4.3,4.15,4.0,3.85,3.5,3.4,3.3,3.0]],
  [2001.0,[3.8,3.7,3.2,3.0,2.9,2.7]],[2001.35,[4.1,3.2]],
  [2001.65,[4.3,4.2,3.9,3.4,3.1,2.9,2.7]],
  [2002.65,[6.0,4.8,4.4,4.3,4.1,3.85,3.2,3.1,3.0]],
  [2002.85,[3.6,3.5,3.0,2.8,2.6]],
  [2003.6,[4.35,4.1,4.0,3.5,1.73]],
  [2003.75,2004.6,[3.5,3.25,3.05,2.85,2.7,2.55,2.4,2.25,2.1,2.0,1.9,1.8,1.7,1.6,1.5]],
  [2004.65,[4.1,4.05,3.5,3.4,3.3,3.1,3.0,2.9]],
  [2004.7,2005.55,[2.9,2.75,2.6,2.45,2.3,2.2,2.1,2.0,1.9,1.8,1.7]],
  [2005.65,[4.9,4.8,4.7,4.6,4.5,4.3,3.8,3.6,3.4,3.3,3.2,3.1,3.0]],
  [2005.7,2006.45,[2.9,2.75,2.6,2.45,2.3,2.2,2.1,2.0,1.9,1.8,1.7,1.75]],
  [2006.6,[4.6,4.5,4.1,4.0,3.9,3.8,3.5,3.4,3.3,3.2,3.0,2.9]],
  [2006.7,2007.45,[2.6,2.5,2.4,2.3,2.2,2.1,2.0,1.9,1.8]]
];
const sb122Band = [
  [1988.0,1988.6,[1.85,2.0,2.2,2.4,2.1,2.3,2.0,2.25,2.35,2.5,2.45]],
  [1988.65,1988.9,[2.7,2.75,2.8,2.9,3.0,3.1,2.7]],
  [1989.1,1992.5,[2.5,2.1,2.2,2.8,2.05,2.1,1.7,2.0,2.55,2.4,2.9,2.2,2.05,2.6,2.9]],
  [1992.8,1993.6,[2.0,2.1,1.6,2.2,1.9,1.7,1.8,1.3,2.0,2.3,1.6,2.1,1.9,2.2,1.8,2.4]],
  [1993.7,1994.6,[2.5,2.2,2.0,2.3,1.6,1.9,1.25,2.1,1.8,2.0,2.6,1.7,2.2,2.4]],
  [1994.7,1995.6,[2.9,2.7,2.5,2.3,2.4,2.2,2.0,1.9,2.2,2.0,1.4,2.1,2.3,1.9]],
  [1995.75,1996.6,[2.8,2.6,2.4,2.2,2.5,2.0,2.3,1.85,2.1,2.4,2.0,2.2,1.9,2.3]],
  [1996.7,1997.6,[2.8,2.6,2.5,2.2,2.4,2.0,2.6,2.3,2.1,1.6,2.2,2.0,2.4,1.9]],
  [1997.7,1998.6,[2.7,2.6,2.5,2.3,2.2,2.0,2.4,1.8,2.1,1.7,2.0,1.75,2.2,1.8]],
  [1998.7,1999.6,[2.5,2.4,2.2,2.0,1.9,1.7,2.1,1.8,1.6,1.7,1.9,2.2]],
  [1999.7,2000.6,[2.8,2.7,2.6,2.5,2.4,2.3,2.2,2.3,2.1,2.0]],
  [2000.7,2002.6,[2.4,2.2,2.3,2.5,2.2,2.3,2.0,2.4,2.6,2.1,1.9,2.0]],
  [2002.7,2003.55,[2.1,2.0,1.9,2.0,2.2,2.3,2.1,2.2,2.0,1.9,1.8]]
];
const sb122Max = [[1989.65,6.35],[1990.71,6.52],[1992.7,6.44],[1993.65,6.07],[1994.65,6.2],[1995.7,6.71],[1996.65,6.17],[1997.65,6.4],[1998.65,6.19],[1999.65,6.36],[2002.65,6.07]];
const sb122Normal = [2.31,2.31,2.31,2.61,2.0,2.17,2.17,2.6,2.47,2.39,2.17,2.31,2.47,2.31,2.31,2.39,2.39,2.39];

// --- Sb-124 ---
const sb124Grab = [
  [1988.2,[2.53,1.61]],[1988.6,[2.6,2.4,2.21]],
  [1988.67,[6.2,6.15,6.1,5.8,5.7,5.55,5.45,5.35,5.05,5.0,4.6,4.55,4.4,4.3,4.2,4.05]],
  [1988.85,1989.25,[3.7,3.6,3.5,3.3,3.1,3.0,2.9,3.4,3.2]],
  [1989.45,[2.3,1.85]],
  [1989.65,[6.05,5.9,5.75,5.7,5.4,5.35,4.4,4.15,4.0,3.6,3.15,2.9]],
  [1990.2,[3.5,3.4]],[1990.35,[3.1]],
  [1990.71,[5.65,5.55,5.45,5.35,5.05,4.8,4.0,3.85,3.7,3.55,3.4,3.25,3.1,2.95,2.8,2.65,2.5,2.1,2.0]],
  [1991.55,[2.35,1.85]],
  [1991.65,[5.45,5.25,5.2,4.95,4.5,4.35,4.2,4.05,3.9,3.75,3.6,3.45,3.3,3.15,3.0,2.7]],
  [1992.0,[2.25,1.78]],
  [1992.7,[5.95,5.8,5.65,5.5,5.35,5.2,5.05,4.9,4.4,4.35,4.1,3.6,3.55,3.4,2.7,2.6]],
  [1993.2,[1.9,1.8,1.75]],
  [1993.65,[5.75,5.6,5.45,5.3,5.15,5.0,4.85,4.7,4.55,4.4,4.25,4.1,3.95,3.8,3.65,3.5,3.35,3.2,3.05,2.9,2.75]],
  [1993.95,[1.75]],[1994.3,[2.15]],
  [1994.65,[6.05,5.9,5.75,5.6,5.45,5.3,5.1,4.9,4.7,4.55,4.4,4.25,4.1,3.95,3.8,3.65,3.5,3.35,3.2,3.05,2.6,2.4]],
  [1995.4,[4.8,4.65,4.5,4.35,4.2,4.05,3.9,3.75,3.6,3.5,2.8,2.6,2.3,2.2]],
  [1995.7,[5.95,5.8,5.65,5.5,5.35,5.2,5.05,4.9,4.75,4.6,4.45,4.3,4.15,4.0,3.85,3.7,3.55,3.4,3.25,3.1,2.95,2.8,2.65,2.5,2.35,2.2]],
  [1995.9,[5.1,5.05,4.5,3.2,2.8,2.6,2.3,1.9]],
  [1996.65,[6.05,5.9,5.75,5.6,5.45,5.3,5.15,5.0,4.85,4.7,4.55,4.4,4.25,4.1,3.95,3.8,3.65,3.5,3.35,3.2,3.05,2.9,2.75,2.6,2.45,2.3,2.15,2.0]],
  [1997.15,[4.2,3.8,3.3,3.1,2.9,2.5,2.3,1.8]],
  [1997.65,[6.2,6.05,5.9,5.75,5.6,5.45,5.3,5.15,5.0,4.85,4.7,4.55,4.4,4.25,4.1,3.95,3.8,3.65,3.5,3.35,3.2,3.05,2.9,2.75,2.6,2.45,2.3,2.15,2.0]],
  [1997.95,[1.45,1.5]],
  [1998.65,[6.0,5.85,5.7,5.55,5.4,5.25,5.1,4.95,4.8,4.65,4.5,4.35,4.2,4.05,3.5,3.35,3.2,3.05,2.9,2.35,1.85]],
  [1999.65,[6.05,5.9,5.75,5.6,5.45,5.3,5.15,5.0,4.85,4.7,4.55,4.4,4.25,4.1,3.95,3.8,3.65,3.5,3.35,3.2,3.05,2.9,2.75,2.6,2.45,2.3]],
  [2000.65,[5.2,4.8,4.5,4.1,4.0,3.7]],
  [2000.9,2001.3,[3.9,3.6,3.3,3.0,2.8,2.7,3.5,3.6]],
  [2001.65,[6.1,5.95,5.8,5.65,5.5,5.35,5.2,5.05,4.9,4.75,4.6,4.45,4.3,4.15,4.0,3.85,3.7,3.55,3.4,3.25,3.1,2.95,2.8,2.65,2.5]],
  [2002.3,[3.5]],
  [2002.65,[5.9,5.75,5.6,5.45,5.3,5.15,5.0,4.85,4.7,4.55,4.4,4.25,4.1,3.95,3.8,3.65,3.5,3.35,3.2,3.05,2.9,2.75,2.6,2.5]],
  [2002.85,[5.3,4.45,3.9,3.5,3.3,2.8,2.6]],
  [2003.6,[6.15,6.0,5.85,5.7,5.55,5.4,5.25,5.1,4.95,4.8,4.65,4.5,4.35,4.2,4.05,3.9,3.75,3.6,3.45,3.3,3.15,3.0,2.85,2.7,2.55,2.4]],
  [2003.8,2004.0,[2.3,2.25,2.6]],
  [2004.65,[5.7,5.55,5.4,5.25,5.1,4.95,4.8,4.65,4.5,4.35,4.2,4.05,3.9,3.75,3.6,3.45,3.3,3.15,3.0,2.5,2.2,2.0]],
  [2004.85,[2.5,2.35]],
  [2005.65,[6.0,5.85,5.7,5.55,5.4,5.25,5.1,4.95,4.8,4.65,4.5,4.35,4.2,4.05,3.9,3.75,3.6,3.45,3.3,3.15,3.0,2.85,2.7,2.55,2.25]],
  [2006.45,[1.8,1.75,1.5]],
  [2006.6,[6.0,5.85,5.7,5.55,5.4,5.25,5.1,4.95,4.8,4.65,4.5,4.35,4.2,4.05,3.9,3.75,3.6,3.45,3.3,3.15,3.0,2.85,2.7,2.5]],
  [2007.0,[2.0]],[2007.4,[2.3,2.15]]
];
const sb124Max = [[1989.65,6.12],[1990.71,6.27],[1991.65,5.65],[1992.7,6.01],[1993.65,5.87],[1994.65,6.12],[1995.7,6.35],[1996.65,6.11],[1997.65,6.27],[1998.65,6.12],[1999.65,6.11],[2000.65,5.7],[2001.65,6.2],[2002.65,5.99],[2003.6,6.24],[2004.65,6.16],[2005.65,6.15],[2006.6,6.07]];
const sb124Normal = [2.7,2.59,2.47,2.0,2.17,2.0,2.0,2.0,2.0,2.0,2.0,2.0,2.0,2.0,2.0,2.0,2.0,2.0];

// --- Panels (position, y range in decades, legend box position) ---
const panels = [
  {title: 'Ringhals 4: RC Fe-59 activity',  left: 7,   top: 7,    yMin: 1, yMax: 6, grab: [fe59Grab],            max: fe59Max,  normal: fe59Normal,  legend: [80, 9]},
  {title: 'Ringhals 4: RC Co-58 activity',  left: 687, top: 7,    yMin: 2, yMax: 9, grab: [co58Band, co58Grab],  max: co58Max,  normal: co58Normal,  legend: [79, 6]},
  {title: 'Ringhals 4: RC Co-60 activity',  left: 7,   top: 355,  yMin: 1, yMax: 7, grab: [co60Band, co60Grab],  max: co60Max,  normal: co60Normal,  legend: [581, 7]},
  {title: 'Ringhals 4: RC Zn-65 activity',  left: 687, top: 355,  yMin: 0, yMax: 4, grab: [zn65Grab],            max: zn65Max,  normal: zn65Normal,  legend: [582, 11]},
  {title: 'Ringhals 4: RC Cr-51 activity',  left: 7,   top: 702,  yMin: 2, yMax: 7, grab: [cr51Band, cr51Grab],  max: cr51Max,  normal: cr51Normal,  legend: [582, 18]},
  {title: 'Ringhals 4: RC Mn-54 activity',  left: 687, top: 702,  yMin: 1, yMax: 6, grab: [mn54Band, mn54Grab],  max: mn54Max,  normal: mn54Normal,  legend: [571, 241]},
  {title: 'Ringhals 4: RC Sb-122 activity', left: 7,   top: 1048, yMin: 1, yMax: 7, grab: [sb122Band, sb122Grab], max: sb122Max, normal: sb122Normal, legend: [571, 15]},
  {title: 'Ringhals 4: RC Sb-124 activity', left: 687, top: 1048, yMin: 1, yMax: 7, grab: [sb124Grab],           max: sb124Max, normal: sb124Normal, legend: [586, 4]}
];

const FONT = 'Arial, "Liberation Sans", sans-serif';
Chart.defaults.font.family = FONT;
Chart.defaults.color = '#000';

function grabPoints(lists) {
  const pts = [];
  lists.forEach(list => list.forEach(row => {
    const x0 = row[0];
    const x1 = row.length === 3 ? row[1] : row[0];
    const vals = row[row.length - 1];
    vals.forEach((v, i) => {
      const x = vals.length > 1 ? x0 + (x1 - x0) * i / (vals.length - 1) : x0;
      pts.push({x: x, y: Math.pow(10, v)});
    });
  }));
  return pts;
}

function isPow10(v) {
  const l = Math.log10(v);
  return Math.abs(l - Math.round(l)) < 1e-9;
}

function expLabel(v) {
  const e = Math.round(Math.log10(v));
  return '1.E' + (e < 0 ? '-' : '+') + String(Math.abs(e)).padStart(2, '0');
}

// plot background, title and the boxed legend
const decor = {
  id: 'decor',
  beforeDraw(chart) {
    const {ctx, chartArea: a} = chart;
    ctx.save();
    ctx.fillStyle = '#C0C0C0';
    ctx.fillRect(a.left, a.top, a.right - a.left, a.bottom - a.top);
    ctx.strokeStyle = '#808080';
    ctx.lineWidth = 1;
    ctx.strokeRect(a.left + 0.5, a.top + 0.5, a.right - a.left - 1, a.bottom - a.top - 1);
    ctx.restore();
  },
  afterDraw(chart, args, opts) {
    const ctx = chart.ctx;
    ctx.save();
    ctx.fillStyle = '#000';
    ctx.font = 'bold 13px ' + FONT;
    ctx.textAlign = 'center';
    ctx.textBaseline = 'middle';
    ctx.fillText(opts.title, chart.width / 2, 17);

    const [lx, ly] = opts.legend;
    ctx.fillStyle = '#C0C0C0';
    ctx.fillRect(lx, ly, 79, 73);
    ctx.strokeStyle = '#222';
    ctx.lineWidth = 1;
    ctx.strokeRect(lx + 0.5, ly + 0.5, 78, 72);
    ctx.font = '13px ' + FONT;
    ctx.textAlign = 'left';
    chart.data.datasets.forEach((ds, i) => {
      const cy = ly + 10.7 + i * 18.2;
      const cx = lx + 7;
      ctx.save();
      if (ds.pointStyle === 'rectRot') {
        ctx.fillStyle = ds.backgroundColor;
        ctx.beginPath();
        ctx.moveTo(cx - 4, cy); ctx.lineTo(cx, cy - 4); ctx.lineTo(cx + 4, cy); ctx.lineTo(cx, cy + 4);
        ctx.closePath();
        ctx.fill();
      } else if (ds.pointStyle === 'crossRot') {
        ctx.strokeStyle = ds.borderColor;
        ctx.lineWidth = 1.5;
        ctx.beginPath();
        ctx.moveTo(cx - 3.5, cy - 3.5); ctx.lineTo(cx + 3.5, cy + 3.5);
        ctx.moveTo(cx + 3.5, cy - 3.5); ctx.lineTo(cx - 3.5, cy + 3.5);
        ctx.stroke();
      } else if (ds.pointStyle === 'triangle') {
        ctx.strokeStyle = ds.borderColor;
        ctx.lineWidth = 2;
        ctx.beginPath();
        ctx.moveTo(cx, cy - 5); ctx.lineTo(cx + 4.5, cy + 4); ctx.lineTo(cx - 4.5, cy + 4);
        ctx.closePath();
        ctx.stroke();
      } else {
        ctx.strokeStyle = ds.borderColor;
        ctx.lineWidth = 4;
        ctx.beginPath();
        ctx.moveTo(cx - 5, cy); ctx.lineTo(cx + 4, cy);
        ctx.stroke();
      }
      ctx.restore();
      ctx.fillStyle = '#000';
      ctx.fillText(ds.label, lx + 15.5, cy + 0.5);
    });
    ctx.restore();
  }
};

panels.forEach(p => {
  const div = document.createElement('div');
  div.className = 'panel';
  div.style.left = p.left + 'px';
  div.style.top = p.top + 'px';
  const canvas = document.createElement('canvas');
  canvas.width = 671;
  canvas.height = 338;
  div.appendChild(canvas);
  document.body.appendChild(div);

  const yTicks = [];
  for (let e = p.yMin; e < p.yMax; e++) {
    for (let m = 1; m <= 9; m++) yTicks.push(m * Math.pow(10, e));
  }
  yTicks.push(Math.pow(10, p.yMax));

  new Chart(canvas, {
    type: 'scatter',
    data: {
      datasets: [
        {label: 'Grab', data: grabPoints(p.grab), pointStyle: 'rectRot', pointRadius: 4.3,
         backgroundColor: '#000080', borderColor: '#000080', borderWidth: 0, order: 3},
        {label: 'Integrated', data: [], pointStyle: 'crossRot', pointRadius: 4,
         backgroundColor: '#FF00FF', borderColor: '#FF00FF', borderWidth: 1.5, order: 2},
        {label: 'Maximum', data: p.max.map(d => ({x: d[0], y: Math.pow(10, d[1])})), pointStyle: 'triangle', pointRadius: 5.9,
         backgroundColor: 'rgba(0,0,0,0)', borderColor: '#FFFF00', borderWidth: 2, order: 1},
        {label: 'Normal', data: normalX.map((x, i) => ({x: x, y: Math.pow(10, p.normal[i])})), pointStyle: 'line', pointRadius: 9.8,
         backgroundColor: '#00FFFF', borderColor: '#00FFFF', borderWidth: 4.5, order: 0}
      ]
    },
    options: {
      responsive: false,
      animation: false,
      events: [],
      layout: {padding: {left: 0, right: 15, top: 52, bottom: 0}},
      plugins: {
        legend: {display: false},
        tooltip: {enabled: false},
        decor: {title: p.title, legend: p.legend}
      },
      scales: {
        x: {
          type: 'linear', min: 1988, max: 2009,
          afterFit: s => { s.height = 35; },
          ticks: {stepSize: 1, autoSkip: false, maxRotation: 0, padding: 6, font: {size: 12},
                  callback: v => (v % 2 === 0 && v <= 2008) ? String(v) : ''},
          grid: {drawOnChartArea: false, drawTicks: true, tickLength: 5, tickColor: '#000'},
          border: {color: '#000', width: 1}
        },
        y: {
          type: 'logarithmic', min: Math.pow(10, p.yMin), max: Math.pow(10, p.yMax),
          afterFit: s => { s.width = 69; },
          afterBuildTicks: s => { s.ticks = yTicks.map(v => ({value: v})); },
          ticks: {autoSkip: false, padding: 5, font: {size: 12},
                  callback: v => isPow10(v) ? expLabel(v) : ''},
          grid: {color: c => (c.tick && isPow10(c.tick.value)) ? '#FFFFFF' : 'rgba(0,0,0,0)',
                 tickColor: '#000', tickLength: 4, lineWidth: 1},
          border: {color: '#000', width: 1},
          title: {display: true, text: '[Bq/kg]', font: {size: 12, weight: 'bold'}, padding: {top: 2, bottom: 0}}
        }
      }
    },
    plugins: [decor]
  });
});
</script>
</body>
</html>
